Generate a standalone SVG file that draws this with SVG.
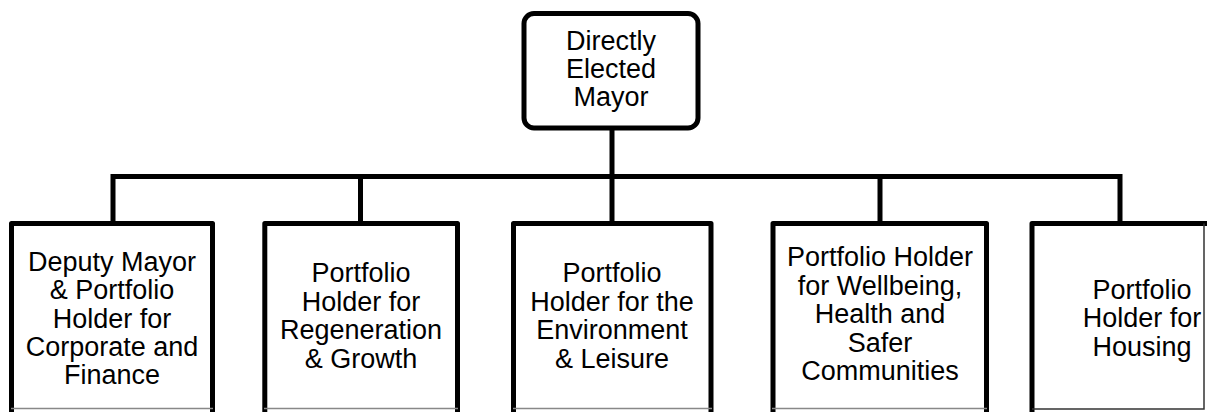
<svg xmlns="http://www.w3.org/2000/svg" width="1207" height="412" viewBox="0 0 1207 412">
<style>
.box{fill:#fff;stroke:#000;stroke-width:5;stroke-linejoin:round}
.edge{fill:none;stroke:#000;stroke-width:5;stroke-linejoin:miter}
.cut{stroke:#888;stroke-width:1.5;fill:none}
text{font-family:"Liberation Sans",Arial,sans-serif;font-size:27px;fill:#000;text-anchor:middle}
</style>
<rect width="1207" height="412" fill="#fff"/>
<g id="connectors">
<path class="edge" d="M113,222 V176.5 H1120 V222"/>
<path class="edge" d="M612,128 V222"/>
<path class="edge" d="M360.5,176.5 V222"/>
<path class="edge" d="M880,176.5 V222"/>
</g>
<g id="mayor">
<rect class="box" x="524" y="13.5" width="174" height="114.5" rx="10"/>
<text x="611" y="50">Directly</text>
<text x="611" y="78">Elected</text>
<text x="611" y="106">Mayor</text>
</g>
<g id="deputy">
<path class="box" d="M11.5,430 V223.5 H212.5 V430"/>
<line class="cut" x1="11" y1="408.5" x2="213" y2="408.5"/>
<text x="112" y="270.5">Deputy Mayor</text>
<text x="112" y="299">&amp; Portfolio</text>
<text x="112" y="327.5">Holder for</text>
<text x="112" y="356">Corporate and</text>
<text x="112" y="384">Finance</text>
</g>
<g id="regeneration">
<path class="box" d="M264.8,430 V223.5 H457.5 V430"/>
<line class="cut" x1="264" y1="408.5" x2="458" y2="408.5"/>
<text x="361" y="282">Portfolio</text>
<text x="361" y="310.5">Holder for</text>
<text x="361" y="339">Regeneration</text>
<text x="361" y="367.5">&amp; Growth</text>
</g>
<g id="environment">
<path class="box" d="M513.5,430 V223.5 H711 V430"/>
<line class="cut" x1="513" y1="408.5" x2="712" y2="408.5"/>
<text x="612" y="282">Portfolio</text>
<text x="612" y="310.5">Holder for the</text>
<text x="612" y="339">Environment</text>
<text x="612" y="367.5">&amp; Leisure</text>
</g>
<g id="wellbeing">
<path class="box" d="M773,430 V223.5 H986.5 V430"/>
<line class="cut" x1="772" y1="408.5" x2="987" y2="408.5"/>
<text x="880" y="266">Portfolio Holder</text>
<text x="880" y="294.5">for Wellbeing,</text>
<text x="880" y="323">Health and</text>
<text x="880" y="351.5">Safer</text>
<text x="880" y="380">Communities</text>
</g>
<g id="housing">
<path class="box" d="M1032,430 V223.5 H1240"/>
<path d="M1204,223.5 V409 H1032" fill="none" stroke="#333" stroke-width="1.5"/>
<text x="1142" y="298.5">Portfolio</text>
<text x="1142" y="327">Holder for</text>
<text x="1142" y="355.5">Housing</text>
</g>
</svg>
